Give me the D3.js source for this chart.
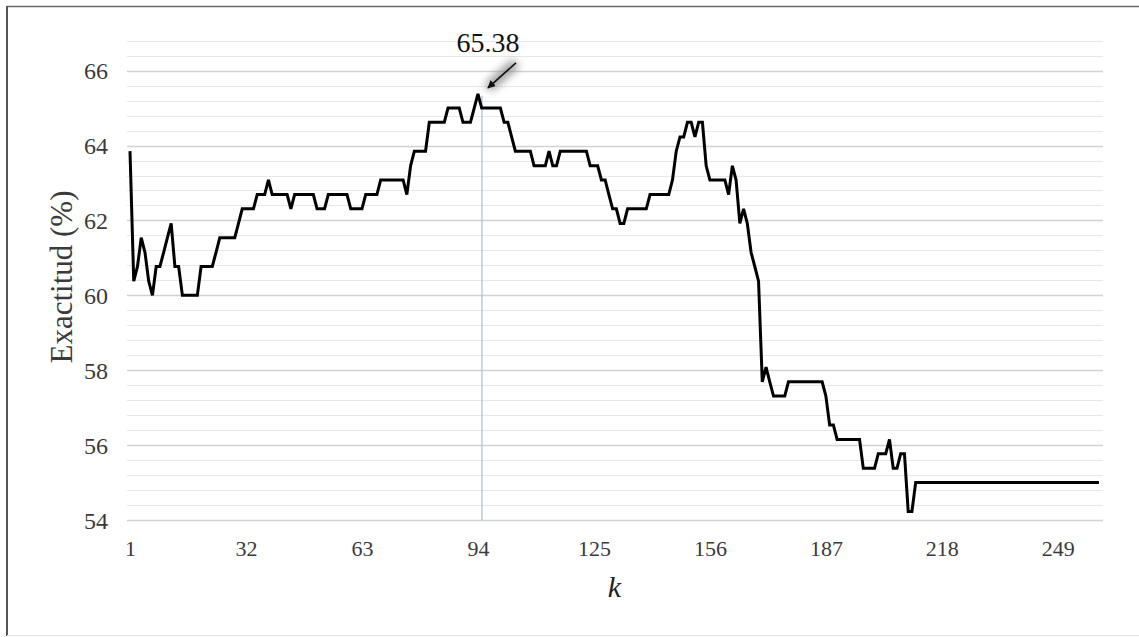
<!DOCTYPE html>
<html>
<head>
<meta charset="utf-8">
<script src="https://cdn.jsdelivr.net/npm/d3@7/dist/d3.min.js"></script>
<style>
  html, body { margin: 0; padding: 0; background: #fff; }
  svg { display: block; }
  text { font-family: "Liberation Serif", "Times New Roman", serif; }
</style>
</head>
<body>
<svg id="chart" width="1139" height="637"></svg>
<script>
// Accuracy (%) of the classifier for each neighbourhood size k = 1 … 260
const accuracy = [
  63.85, 60.38, 60.77, 61.54, 61.15, 60.38, 60.00, 60.77, 60.77, 61.15,
  61.54, 61.92, 60.77, 60.77, 60.00, 60.00, 60.00, 60.00, 60.00, 60.77,
  60.77, 60.77, 60.77, 61.15, 61.54, 61.54, 61.54, 61.54, 61.54, 61.92,
  62.31, 62.31, 62.31, 62.31, 62.69, 62.69, 62.69, 63.08, 62.69, 62.69,
  62.69, 62.69, 62.69, 62.31, 62.69, 62.69, 62.69, 62.69, 62.69, 62.69,
  62.31, 62.31, 62.31, 62.69, 62.69, 62.69, 62.69, 62.69, 62.69, 62.31,
  62.31, 62.31, 62.31, 62.69, 62.69, 62.69, 62.69, 63.08, 63.08, 63.08,
  63.08, 63.08, 63.08, 63.08, 62.69, 63.46, 63.85, 63.85, 63.85, 63.85,
  64.62, 64.62, 64.62, 64.62, 64.62, 65.00, 65.00, 65.00, 65.00, 64.62,
  64.62, 64.62, 65.00, 65.38, 65.00, 65.00, 65.00, 65.00, 65.00, 65.00,
  64.62, 64.62, 64.23, 63.85, 63.85, 63.85, 63.85, 63.85, 63.46, 63.46,
  63.46, 63.46, 63.85, 63.46, 63.46, 63.85, 63.85, 63.85, 63.85, 63.85,
  63.85, 63.85, 63.85, 63.46, 63.46, 63.46, 63.08, 63.08, 62.69, 62.31,
  62.31, 61.92, 61.92, 62.31, 62.31, 62.31, 62.31, 62.31, 62.31, 62.69,
  62.69, 62.69, 62.69, 62.69, 62.69, 63.08, 63.85, 64.23, 64.23, 64.62,
  64.62, 64.23, 64.62, 64.62, 63.46, 63.08, 63.08, 63.08, 63.08, 63.08,
  62.69, 63.46, 63.08, 61.92, 62.31, 61.92, 61.15, 60.77, 60.38, 57.69,
  58.08, 57.69, 57.31, 57.31, 57.31, 57.31, 57.69, 57.69, 57.69, 57.69,
  57.69, 57.69, 57.69, 57.69, 57.69, 57.69, 57.31, 56.54, 56.54, 56.15,
  56.15, 56.15, 56.15, 56.15, 56.15, 56.15, 55.38, 55.38, 55.38, 55.38,
  55.77, 55.77, 55.77, 56.15, 55.38, 55.38, 55.77, 55.77, 54.23, 54.23,
  55.00, 55.00, 55.00, 55.00, 55.00, 55.00, 55.00, 55.00, 55.00, 55.00,
  55.00, 55.00, 55.00, 55.00, 55.00, 55.00, 55.00, 55.00, 55.00, 55.00,
  55.00, 55.00, 55.00, 55.00, 55.00, 55.00, 55.00, 55.00, 55.00, 55.00,
  55.00, 55.00, 55.00, 55.00, 55.00, 55.00, 55.00, 55.00, 55.00, 55.00,
  55.00, 55.00, 55.00, 55.00, 55.00, 55.00, 55.00, 55.00, 55.00, 55.00
];
const kStart = 1;

const xTickValues = [1, 32, 63, 94, 125, 156, 187, 218, 249];
const yTickValues = [54, 56, 58, 60, 62, 64, 66];
const yMin = 54, yMax = 66.8, yMinorStep = 0.4;

const yTitle = "Exactitud  (%)";
const xTitle = "k";

// best k and its accuracy, highlighted with a guide line and an arrow
const bestK = 94;
const bestAcc = 65.38;

const svg = d3.select("#chart");

const plot = { left: 127, right: 1103, top: 40, bottom: 520 };

const x = d3.scaleLinear().domain([kStart, kStart + accuracy.length - 1]).range([130, 1099]);
const y = d3.scaleLinear().domain([yMin, yMax]).range([plot.bottom, plot.top + 0.7]);

// frame around the figure
svg.append("line").attr("x1", 7).attr("x2", 1139).attr("y1", 6.5).attr("y2", 6.5)
  .attr("stroke", "#6a6a6a").attr("stroke-width", 1.5);
svg.append("line").attr("x1", 7).attr("x2", 7).attr("y1", 6).attr("y2", 636)
  .attr("stroke", "#555").attr("stroke-width", 2);
svg.append("line").attr("x1", 7).attr("x2", 1139).attr("y1", 635.5).attr("y2", 635.5)
  .attr("stroke", "#e4e4e4").attr("stroke-width", 1);

// minor and major horizontal gridlines
const gridVals = d3.range(0, Math.round((yMax - yMin) / yMinorStep) + 1).map(i => +(yMin + i * yMinorStep).toFixed(2));
svg.append("g").selectAll("line").data(gridVals).join("line")
  .attr("x1", plot.left).attr("x2", plot.right)
  .attr("y1", d => Math.round(y(d)) + 0.5).attr("y2", d => Math.round(y(d)) + 0.5)
  .attr("stroke", d => yTickValues.includes(d) ? "#d2d2d2" : "#e8e8e8")
  .attr("stroke-width", d => yTickValues.includes(d) ? 1.3 : 1);

// y axis labels
const yAxis = d3.axisLeft(y).tickValues(yTickValues).tickSize(0).tickPadding(0).tickFormat(d3.format("d"));
const gy = svg.append("g").attr("transform", "translate(108,0)").call(yAxis);
gy.select(".domain").remove();
gy.selectAll("text").attr("font-size", 24).attr("fill", "#3a3a3a")
  .attr("font-family", "'Liberation Serif', 'Times New Roman', serif").attr("dy", "0.34em");

// x axis labels
const xAxis = d3.axisBottom(x).tickValues(xTickValues).tickSize(0).tickPadding(0).tickFormat(d3.format("d"));
const gx = svg.append("g").attr("transform", "translate(0,540)").call(xAxis);
gx.select(".domain").remove();
gx.selectAll("text").attr("font-size", 22).attr("fill", "#3a3a3a")
  .attr("font-family", "'Liberation Serif', 'Times New Roman', serif").attr("dy", "0.71em");

// axis titles
svg.append("text")
  .attr("transform", "translate(72,277) rotate(-90)")
  .attr("text-anchor", "middle").attr("font-size", 31).attr("fill", "#3a3a3a")
  .text(yTitle);
svg.append("text")
  .attr("x", (x.range()[0] + x.range()[1]) / 2).attr("y", 597)
  .attr("text-anchor", "middle").attr("font-size", 30).attr("font-style", "italic").attr("fill", "#222")
  .text(xTitle);

// guide line at the best k
svg.append("line")
  .attr("x1", x(bestK) + 4).attr("x2", x(bestK) + 4)
  .attr("y1", y(bestAcc) + 2).attr("y2", plot.bottom)
  .attr("stroke", "#a7bcd6").attr("stroke-width", 1.2);

// accuracy curve
const line = d3.line().x((d, i) => x(kStart + i)).y(d => y(d));
svg.append("path").datum(accuracy)
  .attr("d", line).attr("fill", "none")
  .attr("stroke", "#000").attr("stroke-width", 3)
  .attr("stroke-linejoin", "miter").attr("stroke-miterlimit", 3);

// arrow pointing at the maximum, with a soft shadow
const defs = svg.append("defs");
defs.append("filter").attr("id", "glow").attr("x", "-50%").attr("y", "-50%").attr("width", "200%").attr("height", "200%")
  .append("feGaussianBlur").attr("stdDeviation", 4);
defs.append("marker").attr("id", "head").attr("viewBox", "0 0 10 10")
  .attr("refX", 9).attr("refY", 5).attr("markerWidth", 5).attr("markerHeight", 5)
  .attr("orient", "auto").attr("markerUnits", "strokeWidth")
  .append("path").attr("d", "M0,0 L10,5 L0,10 z").attr("fill", "#111");

const tip = { x: x(bestK) + 10, y: y(bestAcc) - 6 };
const tail = { x: tip.x + 28, y: tip.y - 25 };
svg.append("line")
  .attr("x1", tail.x).attr("y1", tail.y).attr("x2", tip.x).attr("y2", tip.y)
  .attr("stroke", "#777").attr("stroke-width", 10).attr("opacity", 0.75).attr("filter", "url(#glow)");
svg.append("line")
  .attr("x1", tail.x).attr("y1", tail.y).attr("x2", tip.x).attr("y2", tip.y)
  .attr("stroke", "#111").attr("stroke-width", 1.6).attr("marker-end", "url(#head)");

svg.append("text")
  .attr("x", x(bestK) + 10).attr("y", 52)
  .attr("text-anchor", "middle").attr("font-size", 28).attr("fill", "#111")
  .text(bestAcc.toFixed(2));
</script>
</body>
</html>
